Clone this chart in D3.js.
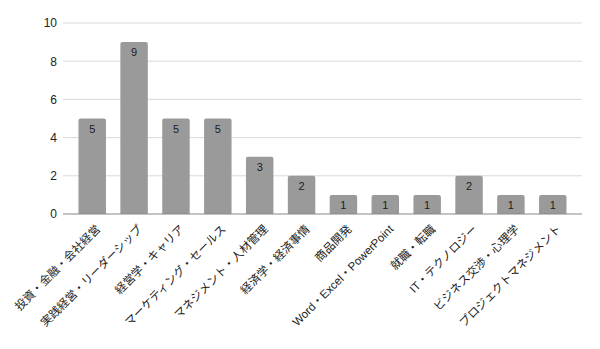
<!DOCTYPE html>
<html>
<head>
<meta charset="utf-8">
<script src="https://cdn.jsdelivr.net/npm/d3@7"></script>
<style>
  body { margin: 0; background: #fff; }
  svg { display: block; font-family: "Liberation Sans", Arial, "Noto Sans CJK JP", sans-serif; }
  text { opacity: 0.999; }
</style>
</head>
<body>
<div id="chart"></div>
<script>
// Categories and counts
const categories = [
    '投資・金融・会社経営',
    '実践経営・リーダーシップ',
    '経営学・キャリア',
    'マーケティング・セールス',
    'マネジメント・人材管理',
    '経済学・経済事情',
    '商品開発',
    'Word・Excel・PowerPoint',
    '就職・転職',
    'IT・テクノロジー',
    'ビジネス交渉・心理学',
    'プロジェクトマネジメント'
];
const counts = [5, 9, 5, 5, 3, 2, 1, 1, 1, 2, 1, 1];
const yTicks = [0, 2, 4, 6, 8, 10];

const width = 600, height = 349;
const margin = {top: 23, right: 18, bottom: 135, left: 63};

const svg = d3.select('#chart')
    .append('svg')
    .attr('width', width)
    .attr('height', height);

const x = d3.scaleBand()
    .domain(categories)
    .range([margin.left, width - margin.right])
    .paddingInner(0.344)
    .paddingOuter(0.37);

const y = d3.scaleLinear()
    .domain([0, 10])
    .range([height - margin.bottom, margin.top]);

// Grid lines
svg.append('g')
    .selectAll('line')
    .data(yTicks.filter(d => d > 0))
    .enter()
    .append('line')
    .attr('x1', margin.left)
    .attr('x2', width - margin.right)
    .attr('y1', d => y(d))
    .attr('y2', d => y(d))
    .attr('stroke', '#d9d9d9')
    .attr('stroke-width', 1);

// Y axis labels
const yAxis = svg.append('g')
    .attr('transform', `translate(${margin.left}, 0)`)
    .call(d3.axisLeft(y).tickValues(yTicks).tickSize(0).tickPadding(6));
yAxis.select('.domain').remove();
yAxis.selectAll('text')
    .attr('fill', '#222')
    .attr('font-size', '12px')
    .style('font-family', '"Liberation Sans", Arial, sans-serif');

// Bars with slightly rounded tops
const r = 2;
svg.append('g')
    .selectAll('path')
    .data(counts)
    .enter()
    .append('path')
    .attr('fill', '#9a9a9a')
    .attr('d', (d, i) => {
        const x0 = x(categories[i]), w = x.bandwidth();
        const y0 = y(d), y1 = y(0);
        return `M${x0},${y1} V${y0 + r} Q${x0},${y0} ${x0 + r},${y0} H${x0 + w - r} Q${x0 + w},${y0} ${x0 + w},${y0 + r} V${y1} Z`;
    });

// Value labels inside bars
svg.append('g')
    .selectAll('text')
    .data(counts)
    .enter()
    .append('text')
    .attr('x', (d, i) => x(categories[i]) + x.bandwidth() / 2)
    .attr('y', d => y(d) + 14)
    .attr('text-anchor', 'middle')
    .attr('font-size', '11px')
    .attr('fill', '#1a1a1a')
    .text(d => d);

// Baseline
svg.append('line')
    .attr('x1', margin.left)
    .attr('x2', width - margin.right)
    .attr('y1', y(0))
    .attr('y2', y(0))
    .attr('stroke', '#888')
    .attr('stroke-width', 1.2);

// X axis labels, rotated
svg.append('g')
    .selectAll('text')
    .data(categories)
    .enter()
    .append('text')
    .attr('transform', d => `translate(${x(d) + x.bandwidth() / 2 + 6}, ${y(0) + 13}) rotate(-45)`)
    .attr('text-anchor', 'end')
    .attr('font-size', '11.5px')
    .attr('fill', '#222')
    .attr('dy', '0.35em')
    .text(d => d);
</script>
</body>
</html>
